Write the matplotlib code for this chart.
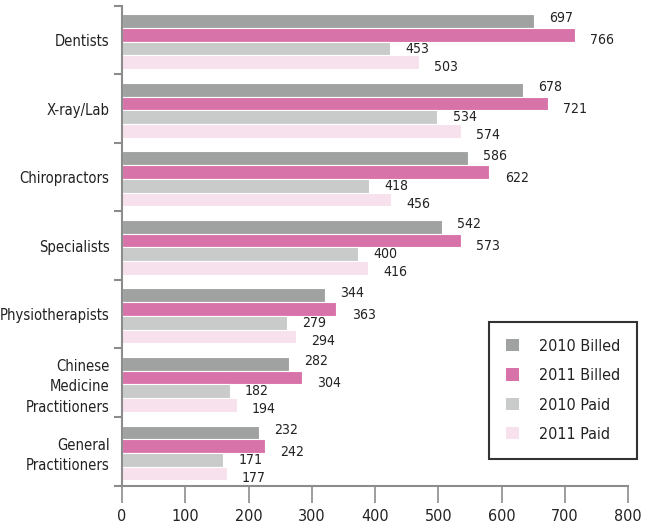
import numpy as np
import matplotlib.pyplot as plt
from matplotlib import font_manager
from matplotlib.patches import Patch

# pick a narrow face if one is around
names = {(f.name, f.stretch) for f in font_manager.fontManager.ttflist}
if any(n == 'Liberation Sans Narrow' for n, _ in names):
    plt.rcParams['font.family'] = ['Liberation Sans Narrow', 'DejaVu Sans']
    scale = 1.0
elif ('DejaVu Sans', 'condensed') in names:
    plt.rcParams['font.family'] = ['DejaVu Sans']
    plt.rcParams['font.stretch'] = 'condensed'
    scale = 0.92
else:
    plt.rcParams['font.family'] = ['Roboto', 'DejaVu Sans']
    scale = 0.85

categories = ['Dentists', 'X-ray/Lab', 'Chiropractors', 'Specialists', 'Physiotherapists',
              'Chinese\nMedicine\nPractitioners', 'General\nPractitioners']
series_names = ['2010 Billed', '2011 Billed', '2010 Paid', '2011 Paid']
billed_2010 = [697, 678, 586, 542, 344, 282, 232]
billed_2011 = [766, 721, 622, 573, 363, 304, 242]
paid_2010 = [453, 534, 418, 400, 279, 182, 171]
paid_2011 = [503, 574, 456, 416, 294, 194, 177]
x_ticks = [0, 100, 200, 300, 400, 500, 600, 700, 800]

colors = ['#a0a1a1', '#d873a9', '#c9cbcb', '#f7e1ec']
label_dy = [2, -4, 0, -3]          # vertical nudge of the value labels (pt)
axis_factor = 0.934                # bottom scale vs. bar values
spine_col = '#8c8c8c'
text_col = '#222222'

fig = plt.figure(figsize=(6.5, 5.27), dpi=100)
ax = fig.add_axes([0.1877, 0.0787, 0.9662 - 0.1877, 0.989 - 0.0787])

y = np.arange(len(categories))
h = 0.2
for j, vals in enumerate([billed_2010, billed_2011, paid_2010, paid_2011]):
    pos = y - 0.3 + 0.025 + j * h
    ax.barh(pos, vals, height=h, color=colors[j], edgecolor='white', linewidth=0.8,
            label=series_names[j])
    for p, v in zip(pos, vals):
        ax.annotate(str(v), (v, p), xytext=(11, label_dy[j]), textcoords='offset points',
                    ha='left', va='center', fontsize=11 * scale, color=text_col)

ax.set_ylim(len(categories) - 0.5, -0.5)
ax.set_xlim(0, x_ticks[-1] / axis_factor)

# category boundaries as tick marks, names centred between them
ax.set_yticks(np.arange(len(categories) + 1) - 0.5)
ax.set_yticklabels([])
ax.set_yticks(y, minor=True)
ax.set_yticklabels(categories, minor=True, fontsize=11.5 * scale, color=text_col, ha='right')
for lbl in ax.get_yticklabels(minor=True):
    lbl.set_linespacing(1.45)
ax.tick_params(axis='y', which='major', length=6, width=1.5, color=spine_col, direction='out')
ax.tick_params(axis='y', which='minor', length=0, pad=9)

ax.xaxis.set_visible(False)
for s in ['top', 'right', 'bottom']:
    ax.spines[s].set_visible(False)
ax.spines['left'].set_color(spine_col)
ax.spines['left'].set_linewidth(1.5)

sec = ax.secondary_xaxis('bottom', functions=(lambda x: x * axis_factor, lambda x: x / axis_factor))
sec.set_xticks(x_ticks)
sec.tick_params(length=12, width=1.2, color=spine_col, labelsize=12.5 * scale,
                labelcolor=text_col, pad=5)
sec.spines['bottom'].set_color(spine_col)
sec.spines['bottom'].set_linewidth(1.5)

handles = [Patch(facecolor=c, edgecolor='none') for c in colors]
leg = fig.legend(handles, series_names, loc='upper left',
                 bbox_to_anchor=(489 / 650, 1 - 322 / 527), bbox_transform=fig.transFigure,
                 borderaxespad=0, fontsize=12.5 * scale, handlelength=0.8, handleheight=0.8,
                 handletextpad=1.3, labelspacing=0.9, borderpad=1.05, fancybox=False,
                 frameon=True, labelcolor=text_col)
leg.get_frame().set_edgecolor('black')
leg.get_frame().set_linewidth(1.5)

plt.savefig('out.png', dpi=100)
